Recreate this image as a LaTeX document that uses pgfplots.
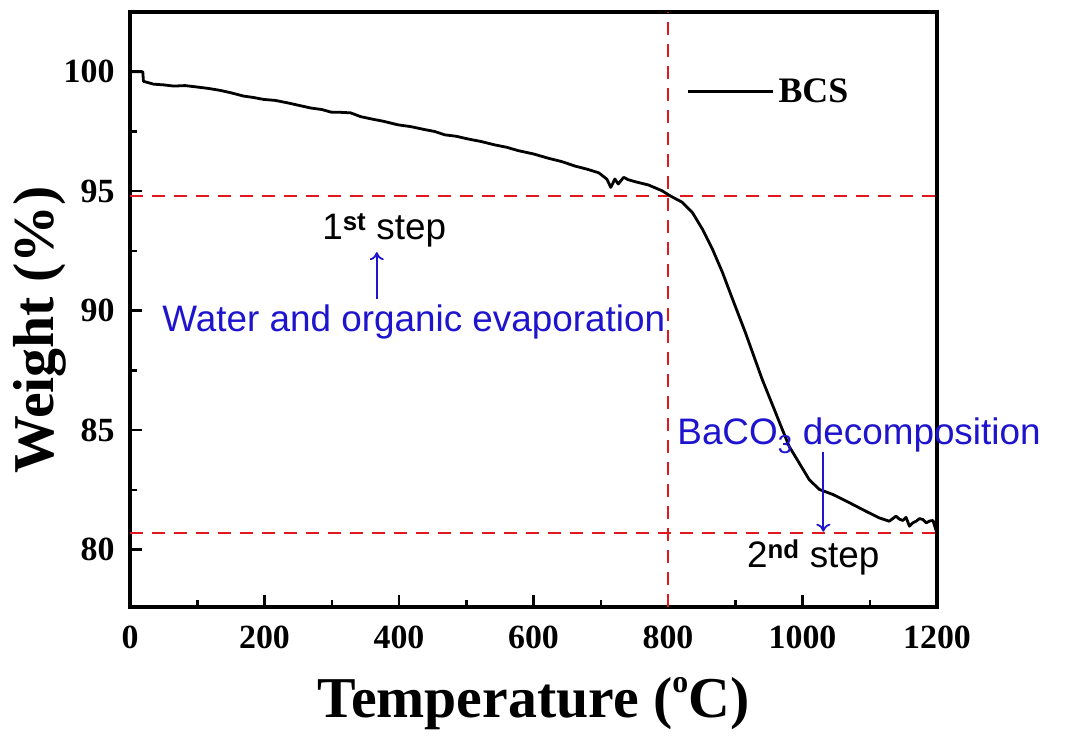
\documentclass[border=0pt]{standalone}
\usepackage{pgfplots}
\pgfplotsset{compat=1.18}
\usetikzlibrary{arrows.meta}
\usepackage{fontspec}
\setmainfont{Liberation Serif}
\newfontfamily\arial{Liberation Sans}
\definecolor{annblue}{RGB}{30,20,205}
\definecolor{dred}{RGB}{225,25,30}
\begin{document}
\begin{tikzpicture}
\path[use as bounding box] (0,0) rectangle (1066bp,746bp);
\begin{axis}[
  scale only axis, width=807bp, height=595bp,
  at={(130bp,139bp)}, anchor=south west,
  xmin=0, xmax=1200, ymin=77.6, ymax=102.5,
  xtick={0,200,...,1200}, minor x tick num=1,
  ytick={80,85,...,100}, minor y tick num=1,
  tick align=inside, xtick pos=bottom, ytick pos=left,
  major tick length=12bp, minor tick length=7bp,
  axis line style={line width=3.5bp},
  every tick/.style={line width=2.5bp, black},
  /pgf/number format/assume math mode=true,
  /pgf/number format/1000 sep={},
  ticklabel style={font=\fontsize{34}{34}\selectfont\bfseries},
  xticklabel style={yshift=-15bp},
  yticklabel style={xshift=-12bp},
  xlabel={Temperature (\raisebox{0.42em}{\fontsize{32}{32}\selectfont o}C)},
  ylabel={Weight (\%)},
  label style={font=\fontsize{58}{58}\selectfont\bfseries},
  xlabel style={at={(axis description cs:0.5,-0.185)}, anchor=base},
  ylabel style={at={(axis description cs:-0.0954,0.466)}, anchor=base},
  clip=false,
  legend style={draw=none, fill=none, at={(axis description cs:0.69,0.866)}, anchor=west,
    font=\fontsize{36}{36}\selectfont\bfseries, inner sep=0pt,
    nodes={inner sep=4bp}},
  legend image code/.code={\draw[#1, line width=2.5bp] (0bp,0bp) -- (85bp,0bp);},
]
\addplot[dred, line width=2.4bp, dash pattern=on 13bp off 9bp, forget plot] coordinates {(0,94.8) (1205,94.8)};
\addplot[dred, line width=2.4bp, dash pattern=on 13bp off 9bp, forget plot] coordinates {(0,80.7) (1205,80.7)};
\addplot[dred, line width=2.4bp, dash pattern=on 13bp off 9bp, forget plot] coordinates {(800,77.6) (800,102.5)};
\addplot[black, line width=2.8bp, line join=round] coordinates {
(1,100) (19,100) (20,99.6) (35,99.48) (50,99.45) (65,99.4) (82,99.42) (100,99.36) (117,99.3) (134,99.22) (150,99.12) (169,98.98)
(184,98.92) (199,98.84) (216,98.8) (234,98.70) (250,98.6) (269,98.48) (285,98.42) (299,98.31) (314,98.30) (328,98.28) (343,98.12) (358,98.03) (378,97.92) (398,97.78)
(418,97.70) (438,97.58) (453,97.50) (468,97.36) (485,97.30) (502,97.19) (522,97.08) (542,96.94) (560,96.84) (577,96.70) (600,96.56) (622,96.38) (642,96.24) (662,96.05)
(680,95.92) (697,95.77) (709,95.51) (715,95.16) (721,95.51) (726,95.30) (734,95.58) (741,95.48)
(751,95.40) (771,95.26) (791,95.02) (803,94.81) (821,94.54) (836,94.12) (851,93.42)
(866,92.58) (881,91.60) (896,90.48) (915,89.09) (940,87.13) (960,85.73) (980,84.33)
(995,83.63) (1010,82.93) (1025,82.52) (1045,82.31) (1070,81.96) (1094,81.61)
(1114,81.33) (1129,81.19) (1139,81.40) (1144,81.28) (1149,81.22) (1154,81.35) (1159,80.98) (1164,81.12) (1169,81.19) (1174,81.30)
(1179,81.26) (1184,81.12) (1189,81.20) (1194,81.22) (1199,80.77)
};
\addlegendentry{BCS}
\node[anchor=base, font=\arial\fontsize{37}{37}\selectfont, black] at (axis cs:378,93.0) {1\textsuperscript{\bfseries st} step};
\node[anchor=base, font=\arial\fontsize{37}{37}\selectfont, annblue] at (axis cs:422,89.14) {Water and organic evaporation};
\node[anchor=base, font=\arial\fontsize{37}{37}\selectfont, annblue] at (axis cs:1084,84.40) {BaCO\textsubscript{3} decomposition};
\node[anchor=base, font=\arial\fontsize{37}{37}\selectfont, black] at (axis cs:1016,79.25) {2\textsuperscript{\bfseries nd} step};
\draw[annblue, line width=1.8bp, -{To[length=8bp,width=14bp]}] (axis cs:367,90.48) -- (axis cs:367,92.45);
\draw[annblue, line width=1.8bp, -{To[length=8bp,width=14bp]}] (axis cs:1031,84.07) -- (axis cs:1031,80.75);
\end{axis}
\end{tikzpicture}
\end{document}
